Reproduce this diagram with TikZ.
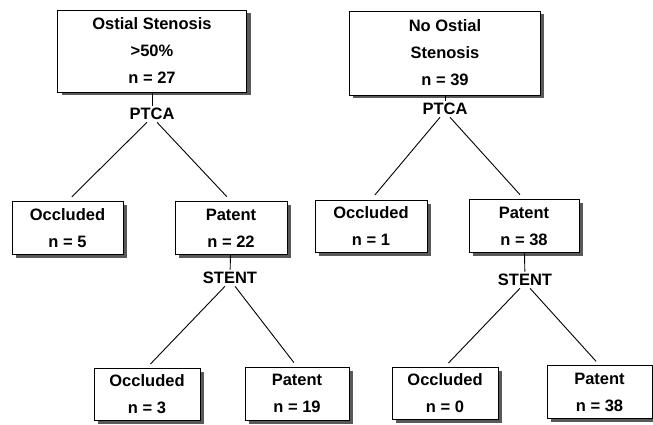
\documentclass[tikz,border=0pt]{standalone}
\usepackage{fontspec}
\setmainfont{Liberation Sans}
\definecolor{shadowgray}{gray}{0.35}

\begin{document}
\begin{tikzpicture}[x=1pt, y=-1pt, line width=0.9pt,
    every node/.style={font=\fontsize{16.5}{27}\selectfont\bfseries, align=center},
    box/.style={draw, fill=white, line width=0.8pt, inner sep=0pt},
    lbl/.style={inner sep=2pt}]
    \useasboundingbox (0,0) rectangle (653,425);
    % shadows first, as plain rectangles
    \fill[shadowgray] (61.5,13.5) rectangle (250.5,95.5);
    \fill[shadowgray] (352.5,14.5) rectangle (544,98.5);
    \fill[shadowgray] (15.5,205) rectangle (126.5,258);
    \fill[shadowgray] (178.5,205) rectangle (290.5,258);
    \fill[shadowgray] (318.5,203.5) rectangle (430.5,255.5);
    \fill[shadowgray] (472.5,203) rectangle (582.5,256);
    \fill[shadowgray] (97.5,371.5) rectangle (203.5,423.5);
    \fill[shadowgray] (248.5,370.5) rectangle (352.5,423.5);
    \fill[shadowgray] (395.5,370.5) rectangle (501.5,422.5);
    \fill[shadowgray] (550.5,369) rectangle (655.5,422);
    % top row
    \node (top1) at (152,51)  [box, minimum width=189pt, minimum height=82pt] {Ostial Stenosis\\>50\%\\n = 27};
    \node (top2) at (445,53)  [box, minimum width=191pt, minimum height=84pt] {No Ostial\\Stenosis\\n = 39};
    \node (ptca1) at (152,114) [lbl] {PTCA};
    \node (ptca2) at (445,109) [lbl] {PTCA};
    % second row
    \node (occ1) at (67.5,228) [box, minimum width=111pt, minimum height=53pt] {Occluded\\n = 5};
    \node (pat1) at (231,228)  [box, minimum width=112pt, minimum height=53pt] {Patent\\n = 22};
    \node (occ2) at (371,226)  [box, minimum width=112pt, minimum height=52pt] {Occluded\\n = 1};
    \node (pat2) at (524,226)  [box, minimum width=110pt, minimum height=53pt] {Patent\\n = 38};
    \node (stent1) at (230,278) [lbl] {STENT};
    \node (stent2) at (525,280) [lbl] {STENT};
    % third row
    \node (occ3) at (147,394)   [box, minimum width=106pt, minimum height=52pt] {Occluded\\n = 3};
    \node (pat3) at (297,393.5) [box, minimum width=104pt, minimum height=53pt] {Patent\\n = 19};
    \node (occ4) at (445,393)   [box, minimum width=106pt, minimum height=52pt] {Occluded\\n = 0};
    \node (pat4) at (599.5,392) [box, minimum width=105pt, minimum height=53pt] {Patent\\n = 38};
    % connectors
    \draw (top1) -- (ptca1);  \draw (top2) -- (ptca2);
    \draw[shorten >=6pt] ([xshift=-5pt]ptca1.south) -- (occ1.north);
    \draw[shorten >=6pt] ([xshift=5pt]ptca1.south) -- (pat1.north);
    \draw[shorten >=6pt] ([xshift=-5pt]ptca2.south) -- (occ2.north);
    \draw[shorten >=6pt] ([xshift=5pt]ptca2.south) -- (pat2.north);
    \draw (pat1) -- (stent1);  \draw (pat2) -- (stent2);
    \draw[shorten >=5pt] ([xshift=-5pt]stent1.south) -- (occ3.north);
    \draw[shorten >=5pt] ([xshift=5pt]stent1.south) -- (pat3.north);
    \draw[shorten >=5pt] ([xshift=-5pt]stent2.south) -- (occ4.north);
    \draw[shorten >=5pt] ([xshift=5pt]stent2.south) -- (pat4.north);
  \end{tikzpicture}
\end{document}
